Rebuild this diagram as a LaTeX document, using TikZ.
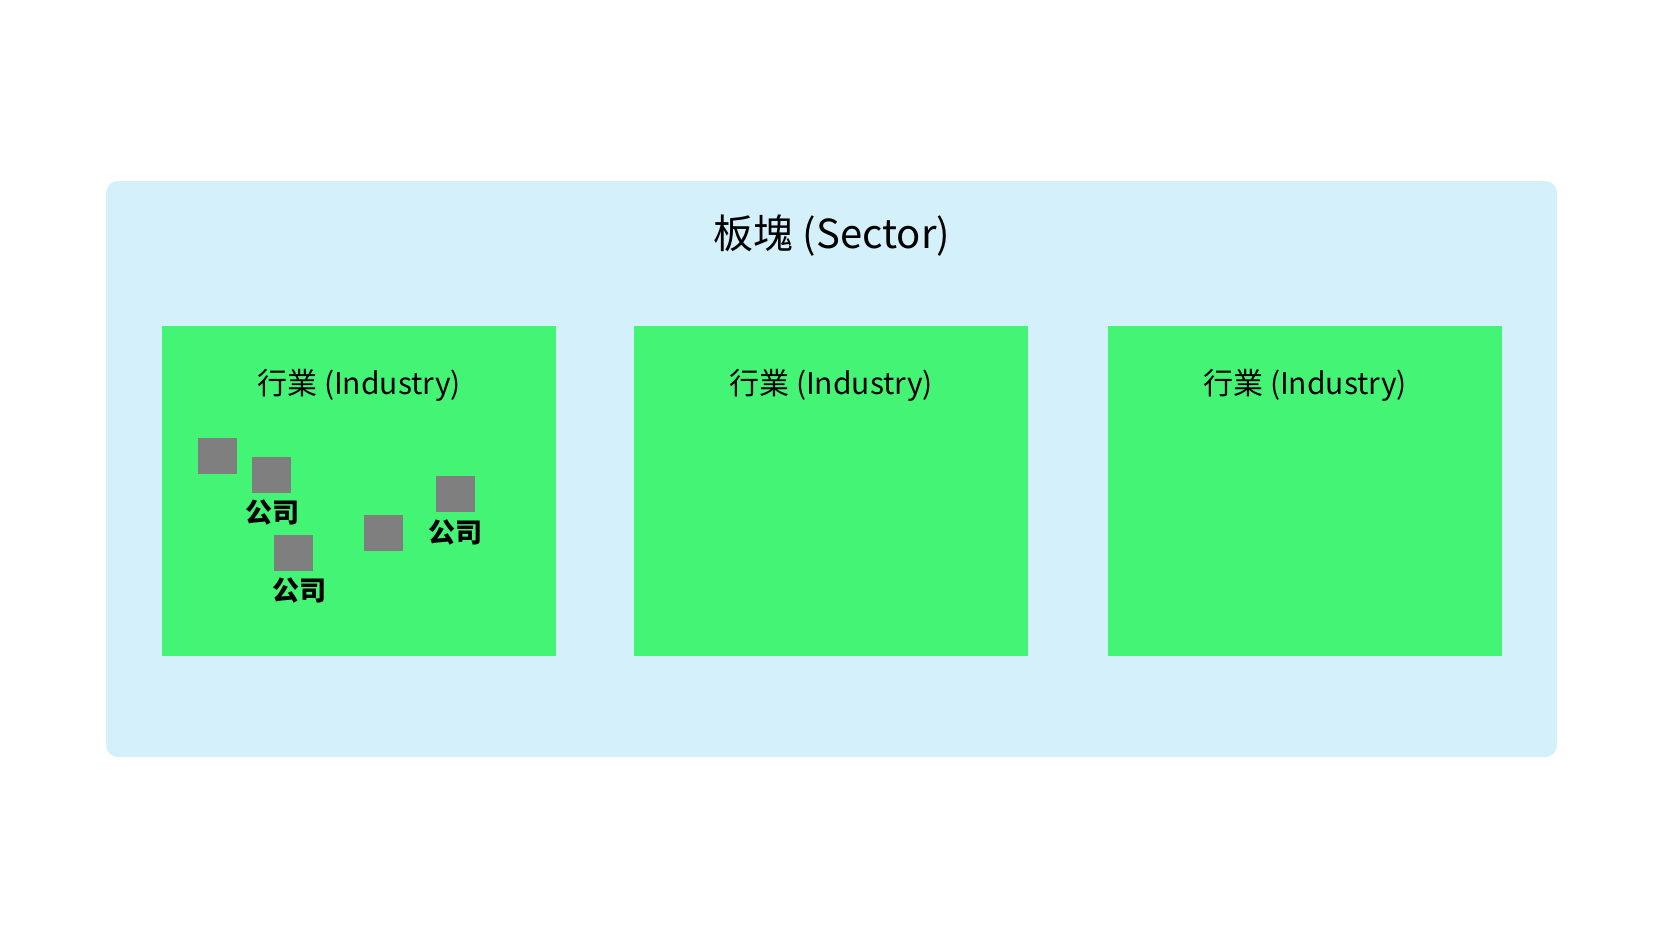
\documentclass[tikz,border=0pt]{standalone}
\usepackage{fontspec}
\setmainfont{Noto Sans CJK SC}
\definecolor{sectorblue}{HTML}{D3F0FB}
\definecolor{industrygreen}{HTML}{44F575}
\definecolor{companygray}{HTML}{7F7F7F}
\tikzset{
  industrybox/.style={fill=industrygreen,draw=none,minimum width=394pt,minimum height=330pt,anchor=north west,inner sep=0pt},
  industrylabel/.style={font=\fontsize{30}{36}\selectfont,text=black},
  company/.style={fill=companygray,draw=none,minimum width=39pt,minimum height=36pt,inner sep=0pt},
  companylabel/.style={font=\fontsize{27}{32}\selectfont\bfseries,text=black}
}
\begin{document}
\begin{tikzpicture}[x=1pt,y=-1pt]
\useasboundingbox[fill=white](0,0)rectangle(1666,937);
% sector
\fill[sectorblue,rounded corners=12pt](106,181)rectangle(1557,757);
\node[font=\fontsize{40}{48}\selectfont](sector)at(832,236){板塊 (Sector)};
% industries
\foreach \n/\x in {ind1/162,ind2/634,ind3/1108}{
  \node[industrybox](\n)at(\x,326){};
  \node[industrylabel](\n lbl)at([yshift=-59pt]\n.north){行業 (Industry)};
}
% companies
\node[company](c1)at(217,456){};
\node[company](c2)at(271,475){};
\node[company](c3)at(293,553){};
\node[company](c4)at(383,533){};
\node[company](c5)at(455,494){};
\node[companylabel](c2lbl)at(272,512){公司};
\node[companylabel](c3lbl)at(299,590){公司};
\node[companylabel](c5lbl)at(455,532){公司};
\end{tikzpicture}
\end{document}
